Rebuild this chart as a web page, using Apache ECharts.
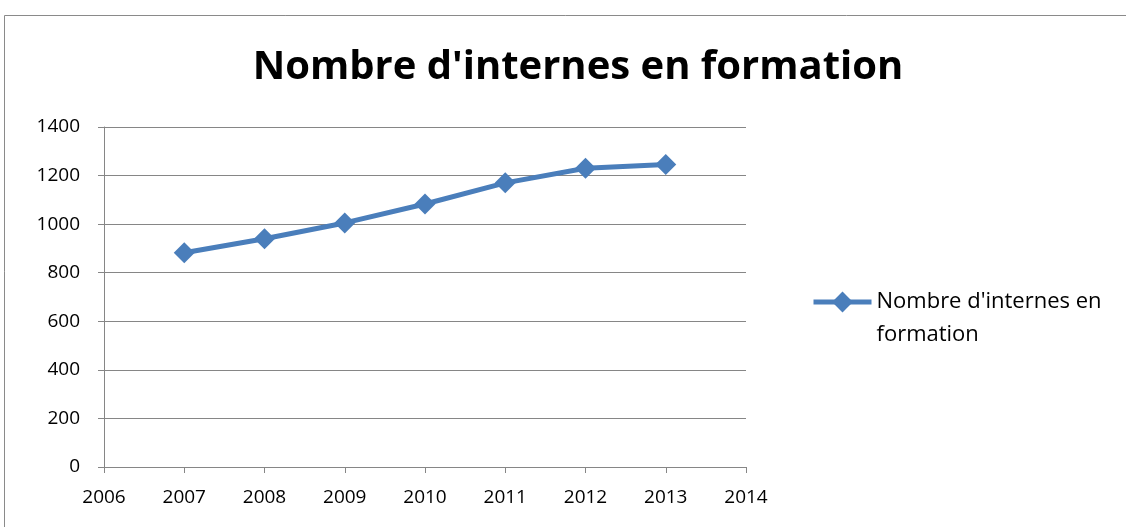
<!DOCTYPE html>
<html>
<head>
<meta charset="utf-8">
<script src="https://cdn.jsdelivr.net/npm/echarts@6/dist/echarts.min.js"></script>
<style>
  html, body { margin: 0; padding: 0; background: #fff; }
  #chart { width: 1126px; height: 527px; }
</style>
</head>
<body>
<div id="chart"></div>
<script>
// données
const years = [2007, 2008, 2009, 2010, 2011, 2012, 2013];
const internes = [882, 940, 1005, 1083, 1170, 1230, 1246];
const seriesName = "Nombre d'internes en formation";

const points = years.map((y, i) => [y, internes[i]]);

const chart = echarts.init(document.getElementById("chart"));
const option = {
  animation: false,
  title: {
    text: seriesName,
    left: 573,
    textAlign: "center",
    top: 43,
    textStyle: { fontFamily: "Open Sans", fontSize: 40, fontWeight: "bold", color: "#000" }
  },
  graphic: [
    {
      type: "rect",
      shape: { x: 4.5, y: 15.5, width: 1300, height: 700 },
      style: { fill: "none", stroke: "#8a8a8a", lineWidth: 1 },
      silent: true
    }
  ],
  legend: {
    left: 806,
    top: 253,
    orient: "vertical",
    itemWidth: 58,
    itemHeight: 26,
    lineStyle: { width: 5 },
    formatter: function () {
      // ligne vide pour aligner le symbole avec la première ligne
      return "{p| }\n{t|Nombre d'internes en}\n{t|formation}";
    },
    textStyle: {
      rich: {
        p: { fontFamily: "Open Sans", fontSize: 22, lineHeight: 33 },
        t: { fontFamily: "Open Sans", fontSize: 22, color: "#000", lineHeight: 33 }
      }
    },
    data: [seriesName]
  },
  grid: { left: 104, right: 380, top: 127, bottom: 60 },
  xAxis: {
    type: "value",
    min: 2006,
    max: 2014,
    interval: 1,
    axisLine: { show: true, lineStyle: { color: "#868686", width: 1 } },
    axisTick: { show: true, length: 6, lineStyle: { color: "#868686" } },
    splitLine: { show: false },
    axisLabel: {
      fontFamily: "Open Sans", fontSize: 19, color: "#000", margin: 21,
      formatter: v => String(v)
    }
  },
  yAxis: {
    type: "value",
    min: 0,
    max: 1400,
    interval: 200,
    axisLine: { show: true, lineStyle: { color: "#868686", width: 1 } },
    axisTick: { show: true, length: 6, lineStyle: { color: "#868686" } },
    splitLine: { lineStyle: { color: "#868686", width: 1 } },
    axisLabel: {
      fontFamily: "Open Sans", fontSize: 19, color: "#000", margin: 24,
      formatter: v => String(v)
    }
  },
  series: [
    {
      name: seriesName,
      type: "line",
      data: points,
      symbol: "diamond",
      symbolSize: 21,
      lineStyle: { color: "#4a7ebb", width: 5 },
      itemStyle: { color: "#4a7ebb" }
    }
  ]
};
chart.setOption(option);
</script>
</body>
</html>
